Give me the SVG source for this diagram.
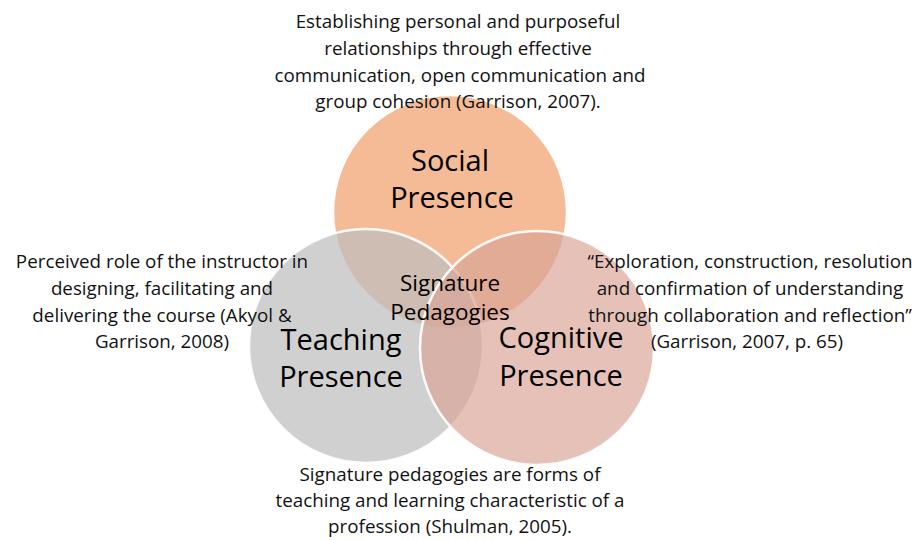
<svg xmlns="http://www.w3.org/2000/svg" width="917" height="540" viewBox="0 0 917 540">
<style>
.c{stroke:#fff;stroke-width:2.5}
.t{font-family:"Open Sans","Liberation Sans",sans-serif;font-size:18.8px;fill:#111;text-anchor:middle}
.l{font-family:"Open Sans","Liberation Sans",sans-serif;font-size:29px;fill:#000;text-anchor:middle}
.s{font-family:"Open Sans","Liberation Sans",sans-serif;font-size:22.5px;fill:#000;text-anchor:middle}
</style>
<rect width="917" height="540" fill="#fff"/>
<g id="social"><circle class="c" cx="450" cy="212" r="117" fill="#F1A16E" fill-opacity="0.72"/></g>
<g id="teaching"><circle class="c" cx="366" cy="346" r="117" fill="#BEBEBE" fill-opacity="0.72" stroke-opacity="0.9"/></g>
<g id="cognitive"><circle class="c" cx="537" cy="348" r="117" fill="#D9A397" fill-opacity="0.68" stroke-opacity="0.9"/></g>
<g id="labels">
<text class="l" x="450" y="171">Social</text>
<text class="l" x="452" y="208">Presence</text>
<text class="l" x="341" y="350">Teaching</text>
<text class="l" x="341" y="387">Presence</text>
<text class="l" x="561" y="348">Cognitive</text>
<text class="l" x="561" y="386">Presence</text>
<text class="s" x="450" y="291">Signature</text>
<text class="s" x="450" y="320">Pedagogies</text>
</g>
<g id="desc-social">
<text class="t" x="458" y="28">Establishing personal and purposeful</text>
<text class="t" x="458" y="55">relationships through effective</text>
<text class="t" x="460" y="82">communication, open communication and</text>
<text class="t" x="458" y="108">group cohesion (Garrison, 2007).</text>
</g>
<g id="desc-teaching">
<text class="t" x="162" y="268">Perceived role of the instructor in</text>
<text class="t" x="162" y="295">designing, facilitating and</text>
<text class="t" x="162" y="322">delivering the course (Akyol &amp;</text>
<text class="t" x="162" y="348">Garrison, 2008)</text>
</g>
<g id="desc-cognitive">
<text class="t" x="750" y="268">“Exploration, construction, resolution</text>
<text class="t" x="750" y="295">and confirmation of understanding</text>
<text class="t" x="750" y="322">through collaboration and reflection”</text>
<text class="t" x="747" y="348">(Garrison, 2007, p. 65)</text>
</g>
<g id="desc-signature">
<text class="t" x="450" y="481">Signature pedagogies are forms of</text>
<text class="t" x="450" y="507">teaching and learning characteristic of a</text>
<text class="t" x="450" y="533">profession (Shulman, 2005).</text>
</g>
</svg>
